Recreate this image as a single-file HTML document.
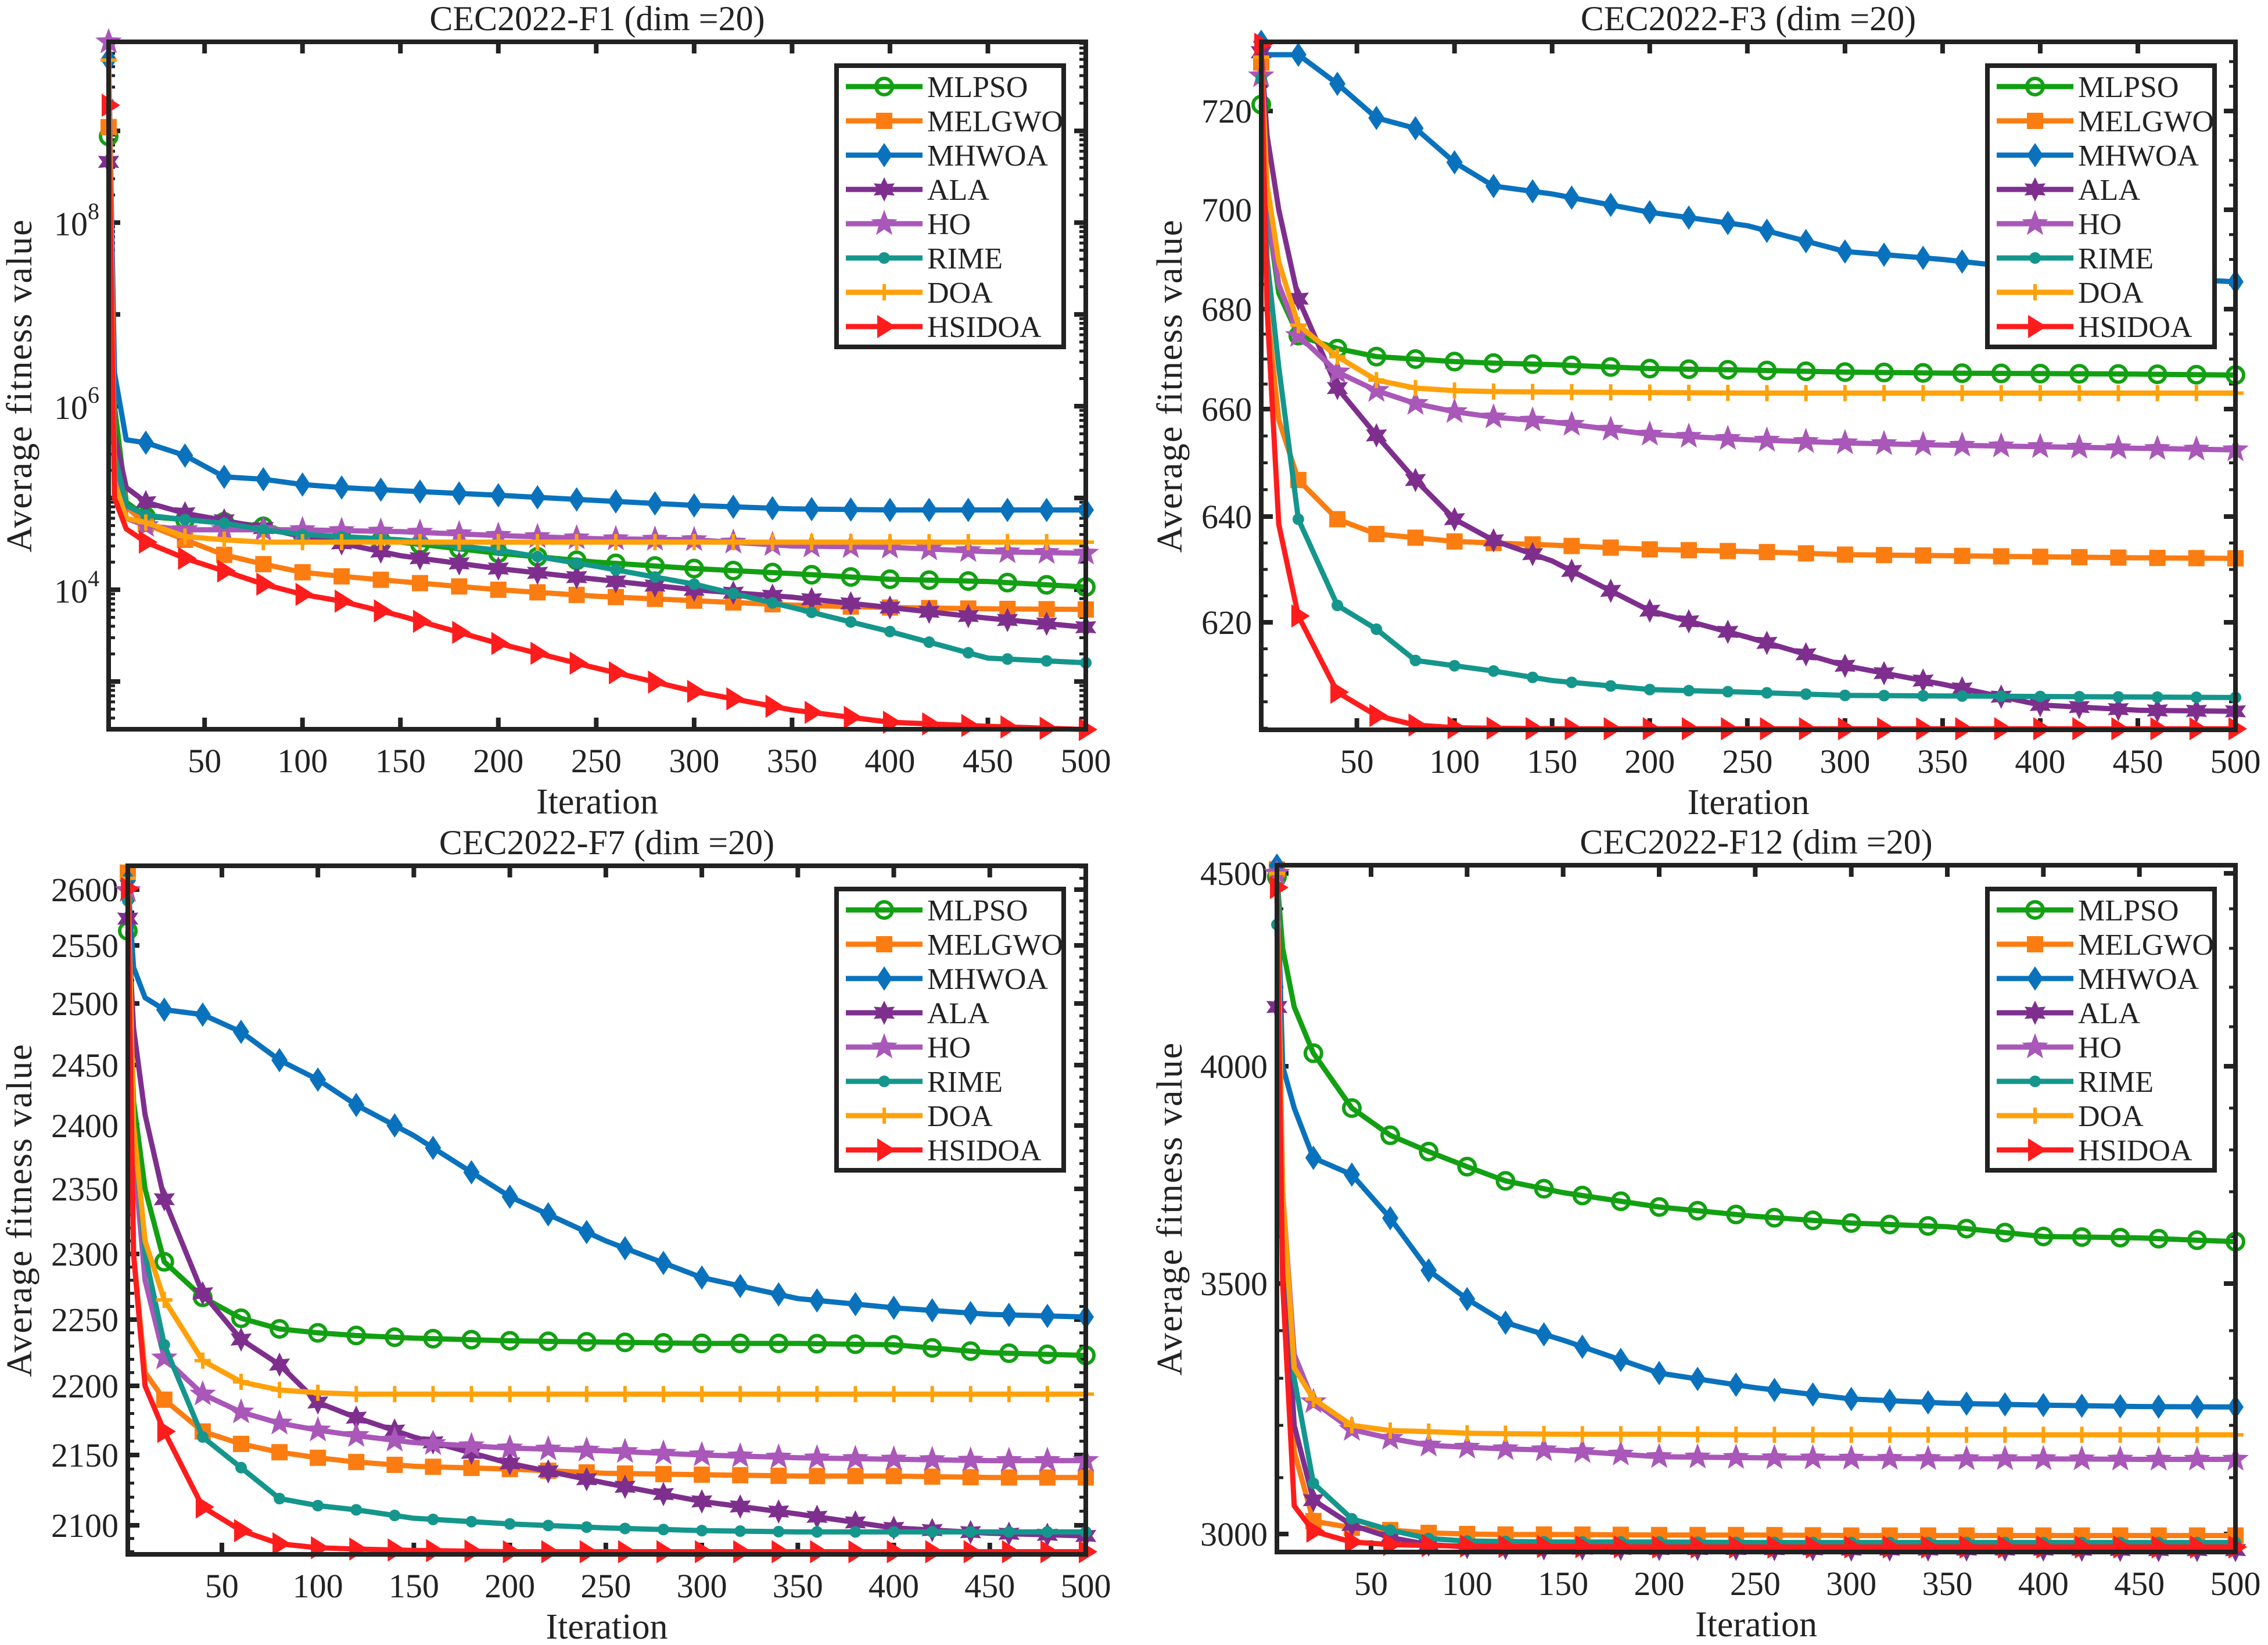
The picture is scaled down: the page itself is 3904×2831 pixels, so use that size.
<!DOCTYPE html>
<html><head><meta charset="utf-8"><style>
html,body{margin:0;padding:0;background:#fff;}
svg{display:block;}
text{font-family:"Liberation Serif",serif;fill:#222;}
</style></head><body>
<svg id="chart" xmlns="http://www.w3.org/2000/svg" width="3904" height="2831" viewBox="0 0 3904 2831"></svg>
<script>
// ---------- data ----------
const iterations = [1,4,10,20,40,60,80,100,120,150,200,250,300,350,400,450,500];
const algoNames = ['MLPSO','MELGWO','MHWOA','ALA','HO','RIME','DOA','HSIDOA'];
const xTicks = [50,100,150,200,250,300,350,400,450,500];

const f1_MLPSO  = [8.7e8,1e6,9e4,6.3e4,5.8e4,5.5e4,4.9e4,4e4,3.7e4,3.3e4,2.5e4,2e4,1.7e4,1.5e4,1.3e4,1.23e4,1.07e4];
const f1_MELGWO = [1.1e9,5e5,8e4,5.2e4,3.5e4,2.4e4,1.9e4,1.55e4,1.4e4,1.23e4,1e4,8.5e3,7.6e3,6.8e3,6.4e3,6.2e3,6.1e3];
const f1_MHWOA  = [6e9,2.3e6,4.3e5,4e5,2.9e5,1.7e5,1.6e5,1.4e5,1.3e5,1.2e5,1.07e5,9.4e4,8.3e4,7.6e4,7.4e4,7.4e4,7.4e4];
const f1_ALA    = [4.6e8,5e5,1.3e5,9e4,6.8e4,5.7e4,4.7e4,3.8e4,3.2e4,2.35e4,1.7e4,1.3e4,1e4,8.3e3,6.4e3,4.9e3,3.9e3];
const f1_HO     = [9.3e9,3e5,6e4,5e4,4.5e4,4.5e4,4.5e4,4.5e4,4.4e4,4.3e4,3.9e4,3.6e4,3.5e4,3e4,2.9e4,2.6e4,2.5e4];
const f1_RIME   = [2e9,3e5,8.3e4,6.5e4,5.8e4,5.3e4,4.5e4,4e4,3.8e4,3.5e4,2.7e4,1.8e4,1.15e4,6.4e3,3.5e3,1.8e3,1.6e3];
const f1_DOA    = [5.9e9,1.5e5,6e4,5.4e4,3.8e4,3.5e4,3.3e4,3.3e4,3.3e4,3.3e4,3.3e4,3.3e4,3.3e4,3.3e4,3.3e4,3.3e4,3.3e4];
const f1_HSIDOA = [1.9e9,1e5,4.6e4,3.3e4,2.2e4,1.6e4,1.15e4,8.9e3,7.5e3,5.2e3,2.6e3,1.4e3,780,490,360,325,300];

const f3_MLPSO  = [721.3,700,683.2,674.7,672.1,670.5,670,669.5,669.2,668.9,668.1,667.8,667.4,667.2,667.1,667,666.8];
const f3_MELGWO = [729.8,680,658,646.8,639.5,636.7,636,635.3,635,634.6,633.8,633.4,632.8,632.6,632.4,632.2,632.1];
const f3_MHWOA  = [734,731.4,731.4,731.4,725.5,718.6,716.5,709.6,704.8,703.2,699.5,696.8,691.6,690,687.9,686.5,685.5];
const f3_ALA    = [731.9,715,700,682.1,664.2,655.1,646.8,639.5,635.5,631.6,622.2,617.2,611.8,608.3,604.4,603.4,603.2];
const f3_HO     = [727.1,700,685,674.7,667.4,663.7,661.1,659.5,658.5,657.6,655.3,654.3,653.7,653.3,653,652.7,652.4];
const f3_RIME   = [726.6,690,668.4,639.5,623.2,618.7,612.8,611.8,610.8,609,607.3,606.8,606.2,606.1,606,605.9,605.8];
const f3_DOA    = [730.9,705,689.5,676.8,670.5,665.8,664.2,663.7,663.5,663.4,663.3,663.2,663.2,663.2,663.2,663.2,663.2];
const f3_HSIDOA = [733.5,680,638.5,621.2,606.8,602.4,600.6,600.1,600,599.9,599.9,599.9,599.9,599.9,599.9,599.9,599.9];

const f7_MLPSO  = [2563,2420,2350,2294,2267,2251,2243,2240,2238,2236,2234,2233,2232,2232,2231,2225,2223];
const f7_MELGWO = [2615,2300,2210,2190,2167,2158,2152,2148,2145,2142,2140,2137,2136,2135,2135,2134,2134];
const f7_MHWOA  = [2608,2531,2505,2495,2491,2477,2454,2438,2417,2392,2344,2310,2282,2266,2259,2254,2252];
const f7_ALA    = [2574,2480,2409,2342,2270,2235,2216,2188,2177,2163,2144,2130,2117,2108,2098,2094,2092];
const f7_HO     = [2599,2380,2280,2221,2194,2181,2173,2168,2164,2159,2155,2153,2150,2148,2147,2146,2146];
const f7_RIME   = [2590,2400,2300,2231,2163,2141,2119,2114,2111,2105,2101,2098,2096,2095,2095,2095,2095];
const f7_DOA    = [2610,2400,2310,2265,2219,2203,2197,2195,2194,2194,2194,2194,2194,2194,2194,2194,2194];
const f7_HSIDOA = [2601,2300,2200,2167,2113,2096,2086,2083,2082,2081,2080,2080,2080,2080,2080,2080,2080];

const f12_MLPSO  = [4490,4300,4150,4033,3900,3835,3796,3760,3726,3698,3666,3645,3630,3622,3600,3597,3589];
const f12_MELGWO = [4510,3600,3150,3023,3011,3007,3002,3000,2999,2999,2998,2998,2997,2997,2997,2997,2997];
const f12_MHWOA  = [4520,4000,3900,3781,3741,3641,3528,3467,3417,3380,3311,3280,3256,3247,3243,3240,3239];
const f12_ALA    = [4150,3600,3200,3060,3016,2993,2979,2974,2972,2971,2970,2970,2969,2969,2969,2968,2968];
const f12_HO     = [4500,3700,3350,3250,3192,3175,3162,3158,3155,3152,3140,3138,3137,3136,3136,3135,3135];
const f12_RIME   = [4360,3700,3300,3090,3027,3007,2991,2986,2985,2984,2984,2983,2983,2983,2983,2983,2983];
const f12_DOA    = [4500,3700,3322,3256,3200,3190,3188,3185,3184,3183,3183,3182,3182,3182,3182,3182,3182];
const f12_HSIDOA = [4460,3500,3050,3005,2984,2979,2977,2976,2975,2975,2974,2974,2974,2974,2974,2974,2974];

const f3Ticks  = [620,640,660,680,700,720];
const f7Ticks  = [2100,2150,2200,2250,2300,2350,2400,2450,2500,2550,2600];
const f12Ticks = [3000,3500,4000,4500];
const f1Ticks  = [4,6,8];

// ---------- styling / axis calibration ----------
const colors = ['#12a012','#fb7d12','#0a72bd','#7e2f8e','#a957b8','#14968c','#ffa10a','#ff1c1c'];
const markers = ['circle','square','diamond','hexagram','pentagram','dot','plus','triangle'];

const panels = [
  {key:'f1', title:'CEC2022-F1 (dim =20)', x0:187, x1:1869, y0:72, y1:1255, log:true, lmin:2.48, lmax:9.97,
   series:[f1_MLPSO,f1_MELGWO,f1_MHWOA,f1_ALA,f1_HO,f1_RIME,f1_DOA,f1_HSIDOA], lx:1440, ly:113},
  {key:'f3', title:'CEC2022-F3 (dim =20)', x0:2171, x1:3848, y0:72, y1:1256,
   cv:[599.7,620,640,660,680,700,720,734], cp:[1256,1071,889,704,532,361,191,72], ticks:f3Ticks, minor:5,
   series:[f3_MLPSO,f3_MELGWO,f3_MHWOA,f3_ALA,f3_HO,f3_RIME,f3_DOA,f3_HSIDOA], lx:3421, ly:113},
  {key:'f7', title:'CEC2022-F7 (dim =20)', x0:220, x1:1869, y0:1490, y1:2675,
   cv:[2078,2100,2150,2200,2250,2300,2350,2400,2450,2500,2550,2600,2621],
   cp:[2675,2625,2504,2385,2271,2158,2046,1937,1833,1727,1627,1531,1490], ticks:f7Ticks, minor:10,
   series:[f7_MLPSO,f7_MELGWO,f7_MHWOA,f7_ALA,f7_HO,f7_RIME,f7_DOA,f7_HSIDOA], lx:1440, ly:1530},
  {key:'f12', title:'CEC2022-F12 (dim =20)', x0:2198, x1:3848, y0:1489, y1:2671,
   cv:[2964,3000,3100,3200,3300,3400,3500,3600,3700,3800,3900,4000,4100,4200,4300,4400,4500,4521],
   cp:[2671,2640,2543,2453,2372,2290,2209,2128,2051,1979,1907,1835,1767,1699,1632,1564,1503,1489], ticks:f12Ticks, minor:100,
   series:[f12_MLPSO,f12_MELGWO,f12_MHWOA,f12_ALA,f12_HO,f12_RIME,f12_DOA,f12_HSIDOA], lx:3421, ly:1530}
];

const NS='http://www.w3.org/2000/svg';
const svg=document.getElementById('chart');
function mk(tag, attrs, parent){
  const e=document.createElementNS(NS,tag);
  for(const k in attrs) e.setAttribute(k,attrs[k]);
  (parent||svg).appendChild(e); return e;
}
function xMap(p,v){ return p.x0 + (v-1)/(500-1)*(p.x1-p.x0); }
function yMap(p,v){
  if(p.log){ const l=Math.log10(v); return p.y1 - (l-p.lmin)/(p.lmax-p.lmin)*(p.y1-p.y0); }
  const cv=p.cv, cp=p.cp; let i=0;
  while(i<cv.length-2 && v>cv[i+1]) i++;
  return cp[i] + (v-cv[i])/(cv[i+1]-cv[i])*(cp[i+1]-cp[i]);
}
function star(cx,cy,n,ro,ri){
  let pts=[];
  for(let k=0;k<2*n;k++){const r=k%2?ri:ro; const a=-Math.PI/2+k*Math.PI/n; pts.push((cx+r*Math.cos(a)).toFixed(1)+','+(cy+r*Math.sin(a)).toFixed(1));}
  return pts.join(' ');
}
function drawMarker(g,type,cx,cy,col){
  let e;
  if(type==='circle') e=mk('circle',{cx,cy,r:14,fill:'none',stroke:col,'stroke-width':6},g);
  else if(type==='square') e=mk('rect',{x:cx-14,y:cy-14,width:28,height:28,fill:col},g);
  else if(type==='diamond') e=mk('polygon',{points:`${cx},${cy-21} ${cx+14},${cy} ${cx},${cy+21} ${cx-14},${cy}`,fill:col},g);
  else if(type==='hexagram') e=mk('polygon',{points:star(cx,cy,6,21,11),fill:col},g);
  else if(type==='pentagram') e=mk('polygon',{points:star(cx,cy,5,24,10),fill:col},g);
  else if(type==='dot') e=mk('circle',{cx,cy,r:10,fill:col},g);
  else if(type==='plus') e=mk('path',{d:`M${cx-14},${cy}H${cx+14}M${cx},${cy-14}V${cy+14}`,stroke:col,'stroke-width':6,fill:'none'},g);
  else e=mk('polygon',{points:`${cx-12},${cy-20} ${cx+20},${cy} ${cx-12},${cy+20}`,fill:col},g);
  
  
}
function interpPix(xs,ys,x){
  let i=0; while(i<xs.length-2 && x>xs[i+1]) i++;
  return ys[i]+(x-xs[i])/(xs[i+1]-xs[i])*(ys[i+1]-ys[i]);
}

panels.forEach(p=>{
  const g=mk('g',{});
  
  
  const cx=(p.x0+p.x1)/2;
  const t=mk('text',{x:cx,y:p.y0-20,'font-size':60,'text-anchor':'middle'},g);
  t.textContent=p.title;
  
  
  const yl=mk('text',{x:0,y:0,'font-size':62,'text-anchor':'middle','letter-spacing':2,transform:`translate(${p.x0<1000?54:2034},${(p.y0+p.y1)/2}) rotate(-90)`},g);
  yl.textContent='Average fitness value';
  
  
  const xl=mk('text',{x:cx,y:p.y1+145,'font-size':62,'text-anchor':'middle'},g);
  xl.textContent='Iteration';
  
  
  xTicks.forEach(v=>{
    const x=xMap(p,v);
    const tk=mk('path',{d:`M${x},${p.y1}v-20M${x},${p.y0}v20`,stroke:'#222','stroke-width':8},g);
    
    
    const lb=mk('text',{x:x,y:p.y1+74,'font-size':58,'text-anchor':'middle'},g);
    lb.textContent=v;
    
    
  });
  if(p.log){
    for(let d=2; d<10; d++){
      for(let m=1;m<10;m++){
        const v=m*Math.pow(10,d); const l=Math.log10(v);
        if(l<p.lmin||l>p.lmax) continue;
        const y=yMap(p,v); const len=(m===1)?20:11;
        const mt=mk('path',{d:`M${p.x0},${y}h${len}M${p.x1},${y}h${-len}`,stroke:'#222','stroke-width':m===1?8:5},g);
        
        
      }
    }
    f1Ticks.forEach(e=>{
      const y=yMap(p,Math.pow(10,e));
      const lb=mk('text',{x:p.x0-16,y:y+22,'font-size':58,'text-anchor':'end'},g);
      lb.textContent='10';
      const ts=mk('tspan',{dy:-28,'font-size':40},lb); ts.textContent=e;
      
      
    });
  } else {
    const lo=p.cv[0], hi=p.cv[p.cv.length-1];
    for(let v=Math.ceil(lo/p.minor)*p.minor; v<=hi; v+=p.minor){
      const major=p.ticks.indexOf(v)>=0;
      const y=yMap(p,v); const len=major?20:11;
      const mt=mk('path',{d:`M${p.x0},${y}h${len}M${p.x1},${y}h${-len}`,stroke:'#222','stroke-width':major?8:5},g);
      
      
    }
    p.ticks.forEach(v=>{
      const y=yMap(p,v);
      const lb=mk('text',{x:p.x0-16,y:y+20,'font-size':58,'text-anchor':'end'},g);
      lb.textContent=v;
      
      
    });
  }
  p.series.forEach((vals,si)=>{
    const sg=mk('g',{},g);
    
    
    const px=iterations.map(v=>xMap(p,v));
    const py=vals.map(v=>yMap(p,v));
    const d=px.map((x,i)=>(i?'L':'M')+x.toFixed(1)+','+py[i].toFixed(1)).join('');
    const ln=mk('path',{d,fill:'none',stroke:colors[si],'stroke-width':9,'stroke-linejoin':'round'},sg);
    
    
    const mIt=[1]; for(let k=20;k<=500;k+=20) mIt.push(k);
    mIt.forEach(it=>{
      const x=xMap(p,it); const y=interpPix(px,py,x);
      drawMarker(sg,markers[si],x,y,colors[si]);
    });
  });
  const box=mk('rect',{x:p.x0,y:p.y0,width:p.x1-p.x0,height:p.y1-p.y0,fill:'none',stroke:'#222','stroke-width':8},g);
  
  
  const lg=mk('g',{},g);
  
  
  mk('rect',{x:p.lx,y:p.ly,width:391,height:484,fill:'#fff',stroke:'#222','stroke-width':8},lg);
  algoNames.forEach((n,i)=>{
    const ey=p.ly+36+i*59;
    const eg=mk('g',{},lg);
    
    
    mk('path',{d:`M${p.lx+16},${ey}H${p.lx+148}`,stroke:colors[i],'stroke-width':9},eg);
    drawMarker(eg,markers[i],p.lx+82,ey,colors[i]);
    const tx=mk('text',{x:p.lx+156,y:ey+18,'font-size':52},eg);
    tx.textContent=n;
  });
});
</script>
</body></html>
